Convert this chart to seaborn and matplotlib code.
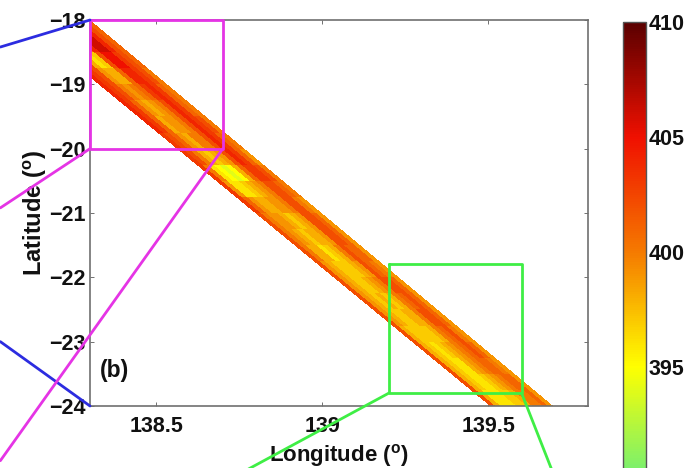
import numpy as np
import pandas as pd
import matplotlib
matplotlib.use("Agg")
import matplotlib.pyplot as plt
import seaborn as sns

sns.set_style("white")
plt.rcParams["font.family"] = ["Liberation Sans", "DejaVu Sans"]
plt.rcParams["font.weight"] = "bold"
plt.rcParams["mathtext.fontset"] = "custom"
plt.rcParams["mathtext.bf"] = "Liberation Sans:bold"
plt.rcParams["mathtext.rm"] = "Liberation Sans:bold"

# ---- data ----
lon_limits = [138.3, 139.8]
lat_limits = [-24.0, -18.0]
lon_ticks = [138.5, 139.0, 139.5]
lon_tick_labels = ["138.5", "139", "139.5"]
lat_ticks = [-18, -19, -20, -21, -22, -23, -24]
cbar_ticks = [395, 400, 405, 410]
value_range = [385, 410]
palette_colors = ["#38dca8", "#6cee78", "#ffff00", "#f57a00", "#f01000", "#5a0000"]

swath_lat = [-18.0, -24.0]
swath_east_lon = [138.30, 139.695]
swath_west_lon = [138.09, 139.505]

# rows: latitude bands from -18 southward in 0.25 degree steps
# columns: across the swath from its north-east edge to its south-west edge
swath_values = [
    [401, 402, 404, 405, 405, 404, 402, 401, 402, 403, 403, 402],
    [401, 402, 404, 406, 406, 404, 401, 400, 401, 403, 403, 402],
    [401, 402, 403, 405, 405, 402, 397, 396, 398, 402, 403, 403],
    [400, 402, 403, 404, 404, 401, 398, 398, 399, 402, 403, 404],
    [400, 401, 403, 404, 403, 401, 400, 399, 400, 402, 403, 404],
    [400, 401, 403, 404, 402, 400, 399, 398, 399, 401, 403, 404],
    [400, 402, 403, 404, 402, 400, 399, 399, 398, 401, 403, 404],
    [400, 401, 403, 404, 402, 400, 400, 398, 399, 401, 402, 403],
    [399, 401, 403, 404, 402, 399, 398, 397, 398, 400, 402, 403],
    [400, 402, 403, 403, 401, 398, 395, 394, 395, 396, 400, 403],
    [400, 401, 402, 402, 400, 399, 398, 397, 396, 396, 399, 403],
    [399, 400, 402, 402, 400, 399, 399, 398, 398, 399, 401, 403],
    [399, 401, 402, 402, 399, 398, 397, 398, 399, 399, 400, 402],
    [399, 401, 402, 402, 399, 398, 398, 397, 398, 399, 400, 402],
    [399, 401, 401, 402, 400, 398, 397, 396, 398, 398, 400, 402],
    [399, 400, 401, 402, 399, 398, 397, 397, 397, 398, 399, 402],
    [399, 401, 402, 402, 400, 399, 398, 397, 397, 398, 399, 402],
    [399, 401, 402, 401, 400, 398, 397, 398, 397, 398, 399, 402],
    [399, 401, 402, 402, 400, 398, 398, 397, 397, 398, 399, 402],
    [399, 400, 402, 401, 400, 398, 397, 397, 397, 397, 398, 402],
    [399, 401, 402, 401, 400, 399, 398, 397, 396, 397, 398, 402],
    [399, 400, 401, 401, 400, 399, 398, 396, 396, 397, 398, 402],
    [399, 401, 401, 400, 399, 398, 397, 396, 396, 397, 398, 402],
    [399, 401, 400, 400, 398, 397, 397, 396, 396, 396, 398, 402],
]

magenta_box_lon = [138.3, 138.7]
magenta_box_lat = [-18.0, -20.0]
green_box_lon = [139.2, 139.6]
green_box_lat = [-21.8, -23.8]
blue_upper_lon, blue_upper_lat = [138.3, 138.03], [-18.0, -18.42]
blue_lower_lon, blue_lower_lat = [138.3, 138.03], [-24.0, -23.0]
magenta_upper_lon, magenta_upper_lat = [138.3, 138.03], [-20.0, -20.92]
magenta_lower_lon, magenta_lower_lat = [138.7, 138.03], [-20.0, -24.85]
green_left_lon, green_left_lat = [139.2, 138.77], [-23.8, -25.0]
green_right_lon, green_right_lat = [139.6, 139.69], [-23.8, -24.98]

# ---- regrid the swath on to the axes area ----
n_lon, n_lat = 498, 386
lon_centers = np.linspace(*lon_limits, n_lon, endpoint=False) + (lon_limits[1] - lon_limits[0]) / n_lon / 2
lat_centers = -18.0 - (np.arange(n_lat) + 0.5) * 6.0 / n_lat
table = np.array(swath_values, dtype=float)
grid = np.full((n_lat, n_lon), np.nan)
for i, lat in enumerate(lat_centers):
    east = np.interp(lat, swath_lat[::-1], swath_east_lon[::-1])
    west = np.interp(lat, swath_lat[::-1], swath_west_lon[::-1])
    frac = (east - lon_centers) / (east - west)
    inside = (frac >= 0) & (frac < 1)
    row = min(int((swath_lat[0] - lat) / 0.25), table.shape[0] - 1)
    grid[i, inside] = table[row, (frac[inside] * table.shape[1]).astype(int)]
frame = pd.DataFrame(grid, index=lat_centers, columns=lon_centers)

dlon = (lon_limits[1] - lon_limits[0]) / n_lon
dlat = 6.0 / n_lat
def X(lon):
    return (np.asarray(lon, dtype=float) - lon_limits[0]) / dlon
def Y(lat):
    return (lat_limits[1] - np.asarray(lat, dtype=float)) / dlat

# ---- figure ----
W, H = 689, 468
fig = plt.figure(figsize=(W / 100, H / 100), dpi=100, facecolor="white")
ax = fig.add_axes([90 / W, 1 - 406 / H, 498 / W, 386 / H])
cbar_bottom = 22 + 25 * 23
cax = fig.add_axes([623 / W, 1 - cbar_bottom / H, 23 / W, (cbar_bottom - 22) / H])

cmap = sns.blend_palette(palette_colors, n_colors=256, as_cmap=True)
sns.heatmap(frame, ax=ax, cbar_ax=cax, cmap=cmap, vmin=value_range[0], vmax=value_range[1],
            xticklabels=False, yticklabels=False)

gray = "#707070"
for s in ax.spines.values():
    s.set_visible(True)
    s.set_color(gray)
    s.set_linewidth(1.2)
ax.set_xticks(X(lon_ticks))
ax.set_xticklabels(lon_tick_labels)
ax.set_yticks(Y(lat_ticks))
ax.set_yticklabels(["\u2212%d" % abs(v) for v in lat_ticks])
ax.tick_params(axis="both", direction="in", length=3, width=0.7, color=gray,
               labelsize=15.5, labelcolor="#111111", bottom=True, left=True, top=True, right=True)
ax.tick_params(axis="x", pad=7.5, labelrotation=0)
ax.tick_params(axis="y", pad=3, labelrotation=0)
for t in ax.get_xticklabels() + ax.get_yticklabels():
    t.set_fontweight("bold")

ax.set_xlabel(r"Longitude ($\mathbf{^{o}}$)", fontsize=16, fontweight="bold", color="#111111", labelpad=0)
ax.set_ylabel(r"Latitude ($\mathbf{^{o}}$)", fontsize=17, fontweight="bold", color="#111111", labelpad=1)
ax.xaxis.set_label_coords(0.50, -0.092)
ax.yaxis.set_label_coords(-0.082, 0.50)

ax.text(X(138.33), Y(-23.45), "(b)", fontsize=16.5, fontweight="bold", color="#111111",
        ha="left", va="center")

magenta, blue, green = "#e534e5", "#2c2ce0", "#3fee45"
def path(lons, lats, color):
    ax.plot(X(lons), Y(lats), color=color, lw=2.0, clip_on=False, solid_capstyle="round", zorder=5)

for bx, by, col in [(magenta_box_lon, magenta_box_lat, magenta), (green_box_lon, green_box_lat, green)]:
    path([bx[0], bx[1], bx[1], bx[0], bx[0]], [by[0], by[0], by[1], by[1], by[0]], col)
path(blue_upper_lon, blue_upper_lat, blue)
path(blue_lower_lon, blue_lower_lat, blue)
path(magenta_upper_lon, magenta_upper_lat, magenta)
path(magenta_lower_lon, magenta_lower_lat, magenta)
path(green_left_lon, green_left_lat, green)
path(green_right_lon, green_right_lat, green)
ax.set_xlim(0, n_lon)
ax.set_ylim(n_lat, 0)

cb = ax.collections[0].colorbar
cb.set_ticks(cbar_ticks)
cb.outline.set_edgecolor("#555555")
cb.outline.set_linewidth(1.0)
cax.tick_params(axis="y", direction="in", length=6, width=0.7, color="#333333", left=True, right=True,
                labelsize=15.5, labelcolor="#111111", pad=2)
for t in cax.get_yticklabels():
    t.set_fontweight("bold")

fig.savefig("out.png", dpi=100)
